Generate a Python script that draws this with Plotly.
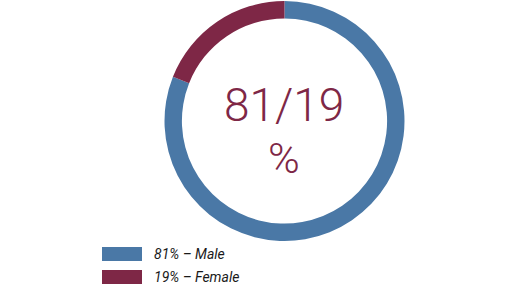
import plotly.graph_objects as go

labels = ["Male", "Female"]
values = [81, 19]
colors = ["#4A78A6", "#7E2746"]
center_main = "81/19"
center_unit = "%"

W, H = 512, 301

fig = go.Figure(go.Pie(
    labels=labels,
    values=values,
    hole=0.855,
    sort=False,
    direction="clockwise",
    rotation=0,
    marker=dict(colors=colors, line=dict(width=0)),
    textinfo="none",
    hoverinfo="label+percent",
    showlegend=False,
    domain=dict(x=[164.5 / W, 404.5 / W], y=[(H - 241) / H, (H - 1) / H]),
))

# centre text
fig.add_annotation(x=284 / W, y=1 - 105 / H, xref="paper", yref="paper",
                   text=center_main, showarrow=False,
                   font=dict(family="Roboto Light, Roboto", size=46, color=colors[1]),
                   xanchor="center", yanchor="middle")
fig.add_annotation(x=284 / W, y=1 - 158 / H, xref="paper", yref="paper",
                   text=center_unit, showarrow=False,
                   font=dict(family="Roboto Light, Roboto", size=43, color=colors[1]),
                   xanchor="center", yanchor="middle")

# custom legend
total = sum(values)
for i, (lab, val, col) in enumerate(zip(labels, values, colors)):
    yc = 254 + i * 23
    fig.add_shape(type="rect", xref="paper", yref="paper",
                  x0=102 / W, x1=142 / W, y0=1 - (yc + 7) / H, y1=1 - (yc - 7) / H,
                  fillcolor=col, line=dict(width=0))
    fig.add_annotation(x=152 / W, y=1 - yc / H, xref="paper", yref="paper",
                       text=f"<i>{round(val / total * 100)}% – {lab}</i>", showarrow=False,
                       font=dict(family="Roboto", size=14, color="#1a1a1a"),
                       xanchor="left", yanchor="middle")

fig.update_layout(width=W, height=H, margin=dict(l=0, r=0, t=0, b=0),
                  paper_bgcolor="white", plot_bgcolor="white")

fig.write_html("out.html")
